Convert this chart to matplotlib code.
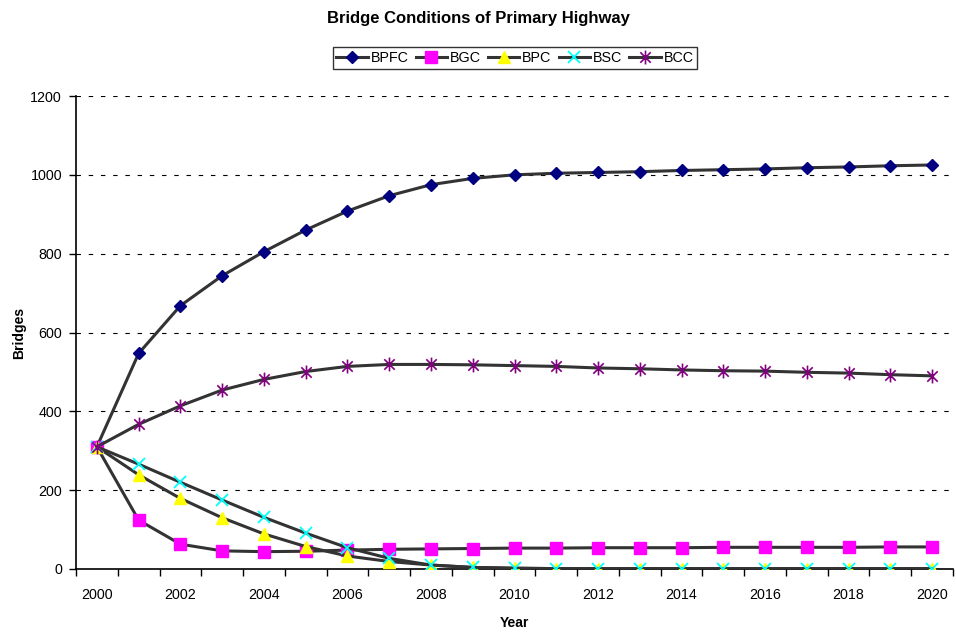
import matplotlib
matplotlib.use("Agg")
import matplotlib.pyplot as plt
from matplotlib.path import Path
from matplotlib.ticker import FixedLocator

plt.rcParams['font.family'] = ['Liberation Sans', 'DejaVu Sans']

years = list(range(2000, 2021))
bpfc = [310, 547, 668, 744, 805, 860, 908, 947, 975, 991, 1000, 1004, 1006,
        1008, 1011, 1013, 1015, 1018, 1020, 1023, 1025]
bgc = [310, 124, 63, 46, 44, 45, 48, 50, 51, 52, 53, 53, 54, 54, 54, 55, 55,
       55, 55, 56, 56]
bpc = [310, 239, 179, 130, 89, 57, 33, 19, 10, 4, 2, 1, 1, 1, 1, 1, 1, 1, 1,
       1, 1]
bsc = [310, 266, 220, 175, 131, 91, 54, 27, 10, 4, 2, 1, 1, 1, 1, 1, 1, 1, 1,
       1, 1]
bcc = [310, 367, 414, 454, 481, 501, 514, 519, 519, 518, 516, 514, 510, 508,
       505, 503, 502, 499, 497, 493, 490]

series_names = ["BPFC", "BGC", "BPC", "BSC", "BCC"]
series_values = [bpfc, bgc, bpc, bsc, bcc]

# Excel-style star: a vertical bar crossed by an X
star = Path([(0, -1), (0, 1), (-0.75, -0.75), (0.75, 0.75),
             (-0.75, 0.75), (0.75, -0.75)],
            [Path.MOVETO, Path.LINETO, Path.MOVETO, Path.LINETO,
             Path.MOVETO, Path.LINETO])

styles = [
    dict(marker='D', markersize=6.5, markerfacecolor='#000080', markeredgecolor='#000080'),
    dict(marker='s', markersize=8, markerfacecolor='#FF00FF', markeredgecolor='#FF00FF'),
    dict(marker='^', markersize=8, markerfacecolor='#FFFF00', markeredgecolor='#FFFF00'),
    dict(marker='x', markersize=8, markerfacecolor='#00FFFF', markeredgecolor='#00FFFF',
         markeredgewidth=1.3),
    dict(marker=star, markersize=10, markerfacecolor='#800080', markeredgecolor='#800080',
         markeredgewidth=1.2),
]

fig = plt.figure(figsize=(9.56, 6.32), dpi=100)
ax = fig.add_axes([76 / 956, 1 - 569 / 632, (953 - 76) / 956, (569 - 96) / 632])

for name, vals, st in zip(series_names, series_values, styles):
    ax.plot(years, vals, color='#333333', linewidth=2.2, label=name, zorder=3, **st)

ax.set_xlim(1999.5, 2020.5)
ax.set_ylim(0, 1200)

ax.set_yticks(range(0, 1201, 200))
ax.xaxis.set_major_locator(FixedLocator(list(range(2000, 2021, 2))))
ax.xaxis.set_minor_locator(FixedLocator([y + 0.5 for y in range(1999, 2021)]))
ax.tick_params(axis='x', which='major', length=0, pad=14, labelsize=10.3)
ax.tick_params(axis='x', which='minor', length=5, width=1, direction='out')
ax.tick_params(axis='y', length=5, width=1, direction='out', labelsize=10.3, pad=5)

for y in range(200, 1201, 200):
    ax.axhline(y, color='black', linewidth=0.8, linestyle=(0, (4, 7)), zorder=1)

ax.spines['top'].set_visible(False)
ax.spines['right'].set_visible(False)
ax.spines['left'].set_linewidth(1.2)
ax.spines['bottom'].set_linewidth(1.2)

ax.set_xlabel("Year", fontweight='bold', fontsize=10, labelpad=10)
ax.set_ylabel("Bridges", fontweight='bold', fontsize=10, labelpad=3)

fig.text(0.5, 1 - 18 / 632, "Bridge Conditions of Primary Highway",
         ha='center', va='center', fontweight='bold', fontsize=12)

leg = fig.legend(loc='center', bbox_to_anchor=(515 / 956, 1 - 58 / 632), ncol=5,
                 frameon=True, fancybox=False, edgecolor='black', fontsize=10.3,
                 handlelength=2.2, handletextpad=0.2, columnspacing=0.5,
                 borderpad=0.25, borderaxespad=0)
leg.get_frame().set_linewidth(1.0)

fig.savefig("out.png", dpi=100)
